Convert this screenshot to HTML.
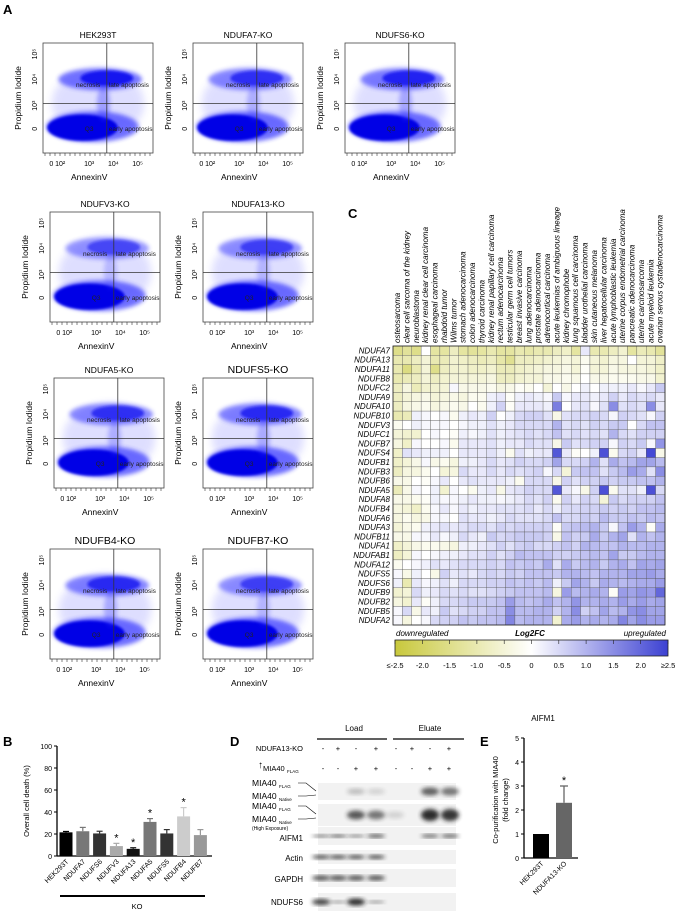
<!DOCTYPE html>
<html><head><meta charset="utf-8">
<style>
body{margin:0;background:#fff;width:676px;height:911px;overflow:hidden;font-family:"Liberation Sans",sans-serif;}
svg text{font-family:"Liberation Sans",sans-serif;}
</style></head>
<body>
<svg id="fig" width="676" height="911" viewBox="0 0 676 911" xmlns="http://www.w3.org/2000/svg">
<defs>
<filter id="blur1" x="-30%" y="-30%" width="160%" height="160%"><feGaussianBlur stdDeviation="1.2"/></filter>
<filter id="blur2" x="-30%" y="-30%" width="160%" height="160%"><feGaussianBlur stdDeviation="2.2"/></filter>
<filter id="blur4" x="-30%" y="-30%" width="160%" height="160%"><feGaussianBlur stdDeviation="4"/></filter>
</defs>
<text x="3" y="14" font-size="13" font-weight="bold">A</text>
<text x="348" y="218" font-size="13" font-weight="bold">C</text>
<text x="3" y="746" font-size="13" font-weight="bold">B</text>
<text x="230" y="746" font-size="13" font-weight="bold">D</text>
<text x="480" y="746" font-size="13" font-weight="bold">E</text>
<g id="flow"></g>
<g id="heat"></g>
<g id="barB"></g>
<g id="blot"></g>
<g id="barE"></g>
</svg>
<script>
const NS="http://www.w3.org/2000/svg";
function mk(parent,tag,attrs,txt){const e=document.createElementNS(NS,tag);for(const k in attrs)e.setAttribute(k,attrs[k]);if(txt!==undefined)e.textContent=txt;parent.appendChild(e);return e;}

/* ---------- Panel A flow plots ---------- */
const flowTitles=["HEK293T","NDUFA7-KO","NDUFS6-KO","NDUFV3-KO","NDUFA13-KO","NDUFA5-KO","NDUFS5-KO","NDUFB4-KO","NDUFB7-KO"];
const flowUpper=[0.9,0.7,0.8,0.55,0.6,0.7,0.75,0.75,0.6];
const flowPos=[[43,43],[193,43],[345,43],[50,212],[203,212],[54,378],[203,378],[50,549],[203,549]];
const flowBig=[0,0,0,0,0,0,1,1,1];
const fg=document.getElementById('flow');
flowTitles.forEach((t,i)=>{
  const [x,y]=flowPos[i],w=110,h=110;
  const g=mk(fg,'g',{});
  
  
  const tt=mk(g,'text',{x:x+w/2,y:y-5,'font-size':flowBig[i]?10.5:8.5,'text-anchor':'middle'},t);
  
  
  const hy=y+h*0.55, vx=x+w*0.58;
  const u=flowUpper[i];
  mk(g,'ellipse',{cx:x+w*0.5,cy:y+h*0.55,rx:w*0.42,ry:h*0.32,fill:'#5050ff',opacity:0.18,filter:'url(#blur4)'});
  mk(g,'ellipse',{cx:x+w*0.45,cy:y+h*0.76,rx:w*0.42,ry:h*0.14,fill:'#2a2aff',opacity:0.65,filter:'url(#blur2)'});
  mk(g,'ellipse',{cx:x+w*0.36,cy:y+h*0.77,rx:w*0.32,ry:h*0.12,fill:'#0000e6',filter:'url(#blur1)'});
  mk(g,'ellipse',{cx:x+w*0.55,cy:y+h*0.55,rx:w*0.06,ry:h*0.16,fill:'#3030ff',opacity:0.4*u,filter:'url(#blur2)'});
  mk(g,'ellipse',{cx:x+w*0.52,cy:y+h*0.33,rx:w*0.38,ry:h*0.1,fill:'#3030ff',opacity:0.5*u+0.2,filter:'url(#blur2)'});
  mk(g,'ellipse',{cx:x+w*0.58,cy:y+h*0.32,rx:w*0.24,ry:h*0.07,fill:'#0c0cee',opacity:u,filter:'url(#blur1)'});
  mk(g,'rect',{x:x,y:y,width:w,height:h,fill:'none',stroke:'#444','stroke-width':0.8});
  mk(g,'line',{x1:x,y1:hy,x2:x+w,y2:hy,stroke:'#333','stroke-width':0.8});
  mk(g,'line',{x1:vx,y1:y,x2:vx,y2:y+h,stroke:'#333','stroke-width':0.8});
  mk(g,'text',{x:x+w*0.3,y:y+h*0.4,'font-size':6.5,fill:'#222'},'necrosis');
  mk(g,'text',{x:vx+2,y:y+h*0.4,'font-size':6.5,fill:'#222'},'late apoptosis');
  mk(g,'text',{x:x+w*0.38,y:y+h*0.8,'font-size':6.5,fill:'#222'},'Q3');
  mk(g,'text',{x:vx+2,y:y+h*0.8,'font-size':6.5,fill:'#222'},'early apoptosis');
  const yl=["10⁵","10⁴","10³","0"],yp=[0.1,0.33,0.57,0.78];
  yl.forEach((l,k)=>mk(g,'text',{x:x-6,y:y+h*yp[k],'font-size':7,'text-anchor':'middle',transform:`rotate(-90 ${x-6} ${y+h*yp[k]})`},l));
  const xl=["0 10²","10³","10⁴","10⁵"],xp=[0.13,0.42,0.64,0.86];
  xl.forEach((l,k)=>mk(g,'text',{x:x+w*xp[k],y:y+h+13,'font-size':7,'text-anchor':'middle'},l));
  for(let k=0;k<22;k++){mk(g,'line',{x1:x+5*k+2,y1:y+h,x2:x+5*k+2,y2:y+h+3,stroke:'#333','stroke-width':0.6});}
  const xa=mk(g,'text',{x:x+w*0.42,y:y+h+27,'font-size':8.5,'text-anchor':'middle'},'AnnexinV');
  
  
  const ya=mk(g,'text',{x:x-22,y:y+h*0.5,'font-size':8.5,'text-anchor':'middle',transform:`rotate(-90 ${x-22} ${y+h*0.5})`},'Propidium Iodide');
  
  
});

/* ---------- Panel C heatmap ---------- */
const heatCols=["osteosarcoma","clear cell sarcoma of the kidney","neuroblastoma","kidney renal clear cell carcinoma","esophageal carcinoma","rhabdoid tumor","Wilms tumor","stomach adenocarcinoma","colon adenocarcinoma","thyroid carcinoma","kidney renal papillary cell carcinoma","rectum adenocarcinoma","testicular germ cell tumors","breast invasive carcinoma","lung adenocarcinoma","prostate adenocarcinoma","adrenocortical carcinoma","acute leukemias of ambiguous lineage","kidney chromophobe","lung squamous cell carcinoma","bladder urothelial carcinoma","skin cutaneous melanoma","liver hepatocellular carcinoma","acute lymphoblastic leukemia","uterine corpus endometrial carcinoma","pancreatic adenocarcinoma","uterine carcinosarcoma","acute myeloid leukemia","ovarian serous cystadenocarcinoma"];
const heatRows=["NDUFA7","NDUFA13","NDUFA11","NDUFB8","NDUFC2","NDUFA9","NDUFA10","NDUFB10","NDUFV3","NDUFC1","NDUFB7","NDUFS4","NDUFB1","NDUFB3","NDUFB6","NDUFA5","NDUFA8","NDUFB4","NDUFA6","NDUFA3","NDUFB11","NDUFA1","NDUFAB1","NDUFA12","NDUFS5","NDUFS6","NDUFB9","NDUFB2","NDUFB5","NDUFA2"];
const heatVals=[
[-1.5,-1.3,-1.5,0,-1.2,-1.2,-0.8,-1.2,-1.3,-1.2,-1,-1.2,-1.2,-1,-1.1,-1,-1,-0.8,-0.7,-1.2,0.3,-1,-1,-0.8,-0.6,-1.2,-0.9,-1,-1.3],
[-1,-1,-0.8,-0.5,-1,-0.9,-0.6,-0.7,-0.8,-0.9,-0.8,-1.1,-1.4,-0.8,-0.8,-0.7,-0.6,-0.5,-0.4,-0.5,-0.2,-0.5,-0.6,-0.4,-0.4,0,-0.5,-0.5,-0.7],
[-1,-1.6,-1,-0.5,-1.5,-0.8,-0.6,-0.6,-0.7,-0.7,-0.6,-0.9,-0.9,-0.7,-0.6,-0.5,-0.4,-0.4,-0.3,-0.5,-0.1,-0.5,-0.5,-0.3,-0.4,-0.4,-0.4,-0.5,-0.7],
[-1,-0.9,-0.8,-0.5,-0.8,-0.6,-0.5,-0.5,-0.5,-0.5,-0.4,-0.8,-0.8,-0.6,-0.5,-0.5,-0.3,-0.3,-0.2,-0.3,0,-0.3,-0.3,-0.2,-0.2,-0.2,-0.3,-0.3,-0.6],
[-0.8,-0.4,-0.9,-0.6,-0.6,-0.5,0.1,-0.3,-0.3,-0.3,-0.2,-0.4,-0.3,-0.1,-0.2,0,-0.5,0,-0.3,0,0.2,0,0.2,0.2,0.2,0.3,0.1,0.3,0.7],
[-0.8,-0.5,-0.4,-0.3,-0.5,-0.4,-0.3,-0.4,-0.2,-0.2,0.2,0.3,-0.1,0.2,0.3,0.2,0.1,0.7,0.1,0.3,0.3,0.2,0.3,0.6,0.3,0.5,0.4,0.5,0.3],
[-0.8,-0.4,-0.3,-0.2,-0.4,-0.3,-0.2,-0.3,0,-0.2,0.2,0.6,-0.1,0.3,0.3,0.3,0.2,1.7,0,0.3,0.4,0.1,0.4,1.5,0.4,0.5,0.4,1.5,0.3],
[-1,-0.9,0.2,0.1,0,0.1,-0.2,0.2,0.3,0.2,0.6,0,0.2,0.5,0.6,0.6,0.4,-0.3,0.4,0.5,0.5,0.6,0.5,0.1,0.6,0.5,0.4,0.1,0.6],
[-0.2,0,0.2,0.1,0.1,0.1,0,0.1,0.2,0.2,0.4,0.2,0.3,0.5,0.5,0.5,0.5,1,0.4,0.5,0.4,0.6,0.5,0.7,0.7,0,0.5,0.8,0.8],
[-0.5,-0.6,-0.6,0,0.1,0,-0.1,0.2,0.1,0.2,0.4,0.2,0.3,0.4,0.5,0.4,0.5,0.8,0.4,0.5,0.4,0.5,0.4,1,0.5,0.4,0.6,0.6,0.6],
[-0.4,-0.7,0.1,0,0,0.1,-0.2,0.3,0.3,0.3,0.4,0.2,0.3,0.3,0.5,0.4,0.4,-0.3,0.7,0.4,0.5,0.6,0.6,0.1,0.6,0.5,0.7,0.1,1.4],
[-0.7,0.4,0.3,0.2,0.2,0.2,0,0.3,0.3,0.3,0.4,0.2,-0.2,0.4,0.2,0.3,0.3,2.2,0.3,-0.1,0,0.2,2.3,-0.2,0.5,0.6,0.3,2.4,-0.3],
[-0.7,-0.5,-0.3,0.1,-0.3,-0.2,-0.4,0.2,0.2,0.3,0.5,0.3,0.4,0.6,0.5,0.5,0.6,1.2,0.5,0.5,0.6,1,0.4,1.1,0.8,0.9,1.2,1.2,0.9],
[-0.8,-0.4,-0.4,-0.2,0,-0.5,-0.4,0.5,0.3,0.3,0.5,0.3,0.5,0.4,0.5,0.6,0.1,0.5,-0.5,0.7,0.8,0.8,0.4,0.7,0.9,1.3,1.1,0.4,1.5],
[-0.3,-0.3,0,-0.1,0.1,0.3,0,0.3,0.4,0.3,0.3,0.3,0.2,-0.2,0.5,0.5,0.5,-0.3,0.6,0.4,0.6,0.6,0.7,0.6,0.7,0.7,0.8,0.8,1],
[-0.9,-0.3,0.1,0,0.2,-0.6,0.1,0,-0.2,0.2,0.3,-0.3,0.3,0.4,0.6,0.5,0.5,2.2,0.3,0.1,-0.3,0.6,2.3,-0.2,0.4,0.4,0.2,2.3,0.5],
[-0.3,-0.3,-0.2,-0.1,0.2,0.1,0.1,0.2,0.3,0.2,0.2,0.1,0.2,0.3,0.5,0.4,0.6,-0.2,0.6,0.3,0.6,0.5,-0.5,0.7,0.5,0.6,0.6,0.6,0.8],
[-0.4,-0.5,-0.7,-0.2,0.1,0.3,0.1,0.3,0.2,0.3,0.3,0.4,0.4,0.4,0.5,0.3,0.5,0.2,0.5,0.5,0.6,0.6,0.7,0.6,0.7,0.6,0.8,0.8,0.9],
[-0.4,-0.2,-0.4,-0.3,0.1,0.1,0,0.4,0.3,0.3,0.2,0.3,0.5,0.4,0.4,0.4,0.5,0.8,0.5,0.5,0.7,0.6,0.9,0.7,0.7,0.8,0.7,0.9,0.8],
[-0.5,-0.3,-0.2,0.2,0.3,0.4,0.3,0.4,0.5,0.5,0.4,0.6,0.5,0.6,0.6,0.6,0.6,-0.1,0.7,0.8,0.9,1,0.7,0.1,0.8,1.3,1,-0.1,1.1],
[-0.3,-0.3,0.1,0.1,0.3,0.1,0.2,0.5,0.3,0.2,0.7,0.5,0.6,0.7,0.7,0.7,0.6,-0.3,0.8,0.6,0.7,1.1,0.7,1,1.2,0.4,1,0.8,1],
[-0.7,-0.5,-0.3,-0.2,-0.2,-0.3,-0.4,0.2,0.2,0.3,0.4,0.6,0.4,0.6,0.7,0.5,0.5,0.6,0.8,0.6,1,0.9,0.8,0.8,1,0.9,0.9,1,1],
[-0.8,-0.5,0.1,0,0.1,0.2,0.2,0.3,0.4,0.4,0.6,0.4,0.6,0.9,0.8,0.8,0.8,0.6,0.6,0.7,0.8,0.9,0.8,1.2,0.7,0.7,0.9,1,1],
[-0.2,0,0.1,0.2,0.4,0.3,0.4,0.5,0.5,0.5,0.6,0.5,0.8,0.7,0.8,0.7,1.1,0.4,1.1,0.7,0.9,1,0.7,1,1.1,0.8,1.2,1.1,1.2],
[0.1,-0.3,0.2,0,-0.3,0.6,0.3,0.4,0.3,0.5,0.6,0.5,0.7,0.6,0.8,0.8,0.8,0.7,1,1,0.9,0.8,1,1,1,1.2,1.2,1.3,1.1],
[0.2,-1,0.3,0.1,0.2,0.4,0.2,0.5,0.5,0.5,0.6,0.6,0.8,0.7,0.8,0.7,0.9,0.2,0.7,1.2,1,0.7,1.1,1,0.9,1,1.1,1.1,1.3],
[-0.6,-0.5,0.5,0.2,0.3,0.5,0.4,0.5,0.4,0.4,0.5,0.6,0.7,0.8,0.8,0.8,0.9,-0.4,1.3,0.9,1,1.1,1,-0.1,1.3,1.2,1.4,1.3,2],
[-0.4,-0.6,0.3,-0.1,0.2,0.5,0.5,0.6,0.7,0.7,0.7,0.8,1.3,0.9,0.8,0.9,1.1,0.8,1,1.4,1,1,1.1,1,1.3,1.1,1.3,1.1,1.2],
[0.1,0.5,-0.3,0.3,0.2,0.7,0.4,0.5,0.6,0.6,0.8,0.8,1.5,0.9,0.9,1,1,0.6,1,1.5,0.6,0.8,1.2,0.9,1,1.4,1.5,1.2,1.2],
[0.1,-0.4,0,0.1,0.5,0.6,0.6,0.8,0.7,0.8,0.8,0.9,1.6,0.9,1,1,1,-0.6,1.1,1.3,1,1.1,1,1.1,1.6,1.2,1.5,1.3,1.3]];
const cbTicks=["≤-2.5","-2.0","-1.5","-1.0","-0.5","0","0.5","1.0","1.5","2.0","≥2.5"];
function heatColor(v){v=Math.max(-2.5,Math.min(2.5,v));const t=Math.abs(v)/2.5;
  if(v<0){return `rgb(${Math.round(255-55*t)},${Math.round(255-55*t)},${Math.round(255-195*t)})`;}
  return `rgb(${Math.round(255-195*t)},${Math.round(255-190*t)},${Math.round(255-45*t)})`;}
const hg=document.getElementById('heat');
const HX=393,HY=346,HW=272,HH=279;
const cw=HW/heatCols.length, rh=HH/heatRows.length;
const hx=j=>HX+j*cw, hy=i=>HY+i*rh;
heatRows.forEach((r,i)=>{
  heatCols.forEach((c,j)=>{
    const cell=mk(hg,'rect',{x:hx(j),y:hy(i),width:cw,height:rh,fill:heatColor(heatVals[i][j]),stroke:'#555','stroke-width':0.35});
    
    
  });
  const l=mk(hg,'text',{x:HX-3,y:hy(i)+rh*0.8,'font-size':8,'font-style':'italic','text-anchor':'end'},r);
  
  
});
mk(hg,'rect',{x:HX,y:HY,width:HW,height:HH,fill:'none',stroke:'#222','stroke-width':0.8});
heatCols.forEach((c,j)=>{
  const xx=hx(j)+cw*0.75, yy=HY-3;
  const l=mk(hg,'text',{x:xx,y:yy,'font-size':8,'font-style':'italic',transform:`rotate(-90 ${xx} ${yy})`},c);
  
  
});
mk(hg,'text',{x:396,y:636,'font-size':8,'font-style':'italic'},'downregulated');
mk(hg,'text',{x:530,y:636,'font-size':8,'font-style':'italic','font-weight':'bold','text-anchor':'middle'},'Log2FC');
mk(hg,'text',{x:666,y:636,'font-size':8,'font-style':'italic','text-anchor':'end'},'upregulated');
const gr=mk(hg,'linearGradient',{id:'cbg',x1:0,x2:1,y1:0,y2:0});
[-2.5,-1.25,0,1.25,2.5].forEach((v,k)=>mk(gr,'stop',{offset:k/4,'stop-color':heatColor(v)}));
const cb=mk(hg,'rect',{x:395,y:640,width:273,height:16,fill:'url(#cbg)',stroke:'#222','stroke-width':0.8});


cbTicks.forEach((t,k)=>{const xx=395+k*273/10;
  mk(hg,'line',{x1:xx,y1:640,x2:xx,y2:644,stroke:'#222','stroke-width':0.6});
  const l=mk(hg,'text',{x:xx,y:668,'font-size':7.5,'text-anchor':'middle'},t);
  
  });

/* ---------- Panel B bar chart ---------- */
const bCats=["HEK293T","NDUFA7","NDUFS6","NDUFV3","NDUFA13","NDUFA5","NDUFS5","NDUFB4","NDUFB7"];
const bVals=[21.5,22.5,20.5,9,6.5,31,20.5,36,19];
const bErr=[0.8,3.5,2,2.5,1,3,3.5,8,5];
const bSig=[0,0,0,1,1,1,0,1,0];
const bTicks=[0,20,40,60,80,100];
const bColors=["#000","#777","#333","#aaa","#111","#777","#333","#ccc","#999"];
const bg=document.getElementById('barB');
const BX0=57,BX1=212,BY0=856,BY1=746;
const by=v=>BY0-(v/100)*(BY0-BY1);
const bx=i=>66+i*16.8;
mk(bg,'line',{x1:BX0,y1:BY1,x2:BX0,y2:BY0,stroke:'#000','stroke-width':1.3});
mk(bg,'line',{x1:BX0,y1:BY0,x2:BX1,y2:BY0,stroke:'#000','stroke-width':1.3});
bTicks.forEach(t=>{mk(bg,'line',{x1:BX0-3,y1:by(t),x2:BX0,y2:by(t),stroke:'#000'});
  mk(bg,'text',{x:BX0-5,y:by(t)+3,'font-size':7,'text-anchor':'end'},t);});
bCats.forEach((c,i)=>{
  const x=bx(i);
  mk(bg,'line',{x1:x,y1:by(bVals[i]),x2:x,y2:by(bVals[i]+bErr[i]),stroke:bColors[i],'stroke-width':1.2});
  mk(bg,'line',{x1:x-3,y1:by(bVals[i]+bErr[i]),x2:x+3,y2:by(bVals[i]+bErr[i]),stroke:bColors[i],'stroke-width':1.2});
  const r=mk(bg,'rect',{x:x-6.5,y:by(bVals[i]),width:13,height:BY0-by(bVals[i]),fill:bColors[i]});
  
  
  if(bSig[i])mk(bg,'text',{x:x,y:by(bVals[i]+bErr[i])-2,'font-size':11,'text-anchor':'middle'},'*');
  const lx=x+3,ly=BY0+6;
  mk(bg,'text',{x:lx,y:ly,'font-size':7,'text-anchor':'end',transform:`rotate(-45 ${lx} ${ly})`},c);
});
const byt=mk(bg,'text',{x:29,y:801,'font-size':7.5,'text-anchor':'middle',transform:'rotate(-90 29 801)'},'Overall cell death (%)');


mk(bg,'line',{x1:60,y1:896,x2:205,y2:896,stroke:'#000','stroke-width':2});
mk(bg,'text',{x:137,y:909,'font-size':7.5,'text-anchor':'middle'},'KO');

/* ---------- Panel D western blot ---------- */
const dg=document.getElementById('blot');
const laneX=[323,338,356,376,396,412,430,449];
const koSigns=["-","+","-","+","-","+","-","+"];
const flagSigns=["-","-","+","+","-","-","+","+"];
mk(dg,'text',{x:354,y:731,'font-size':8,'text-anchor':'middle'},'Load');
mk(dg,'text',{x:430,y:731,'font-size':8,'text-anchor':'middle'},'Eluate');
mk(dg,'line',{x1:317,y1:739,x2:387,y2:739,stroke:'#000','stroke-width':1.2});
mk(dg,'line',{x1:393,y1:739,x2:464,y2:739,stroke:'#000','stroke-width':1.2});
mk(dg,'text',{x:303,y:751,'font-size':7.5,'text-anchor':'end'},'NDUFA13-KO');
mk(dg,'text',{x:263,y:771,'font-size':7.5},'MIA40');
mk(dg,'text',{x:287,y:773,'font-size':4.5},'FLAG');
mk(dg,'text',{x:258,y:768,'font-size':10,'font-weight':'bold'},'↑');
laneX.forEach((x,k)=>{mk(dg,'text',{x:x,y:751,'font-size':7.5,'text-anchor':'middle'},koSigns[k]);
  mk(dg,'text',{x:x,y:771,'font-size':7.5,'text-anchor':'middle'},flagSigns[k]);});
const blots=[
 {n:"mia40",y:783,h:17,b:[[356,0.25,5],[376,0.15,5],[430,0.7,7],[450,0.6,7]]},
 {n:"mia40-high",y:804,h:22,b:[[356,0.75,8],[376,0.6,8],[395,0.15,6],[430,0.95,11],[450,0.9,11]]},
 {n:"aifm1",y:827,h:18,b:[[321,0.6,2],[338,0.75,2],[356,0.55,2],[376,0.8,2.5],[430,0.7,2.5],[450,0.75,2.5]]},
 {n:"actin",y:850,h:14,b:[[321,0.8,3],[338,0.8,3],[356,0.8,3],[376,0.8,3]]},
 {n:"gapdh",y:869,h:18,b:[[321,0.8,4],[338,0.8,4],[356,0.8,4],[376,0.8,4]]},
 {n:"ndufs6",y:893,h:18,b:[[321,0.85,5],[338,0.4,2],[356,0.95,6],[376,0.45,2]]}];
blots.forEach(bl=>{
  const g=mk(dg,'g',{});
  
  
  mk(g,'rect',{x:318,y:bl.y,width:138,height:bl.h,fill:'#f2f2f2'});
  bl.b.forEach(([x,o,t])=>mk(g,'ellipse',{cx:x,cy:bl.y+bl.h*0.5,rx:9,ry:t/2+0.5,fill:'#222',opacity:o,filter:'url(#blur2)'}));
});
function lbl(t,sub,x,y){mk(dg,'text',{x:x,y:y,'font-size':8.5},t);mk(dg,'text',{x:x+27,y:y+2,'font-size':4.5},sub);}
lbl('MIA40','FLAG',252,786);lbl('MIA40','Native',252,799);
lbl('MIA40','FLAG',252,809);lbl('MIA40','Native',252,822);
mk(dg,'text',{x:252,y:830,'font-size':5},'(High Exposure)');
[[786,791],[799,795],[809,814],[822,818]].forEach(([a,b])=>mk(dg,'polyline',{points:`298,${a-3} 306,${a-3} 316,${b}`,fill:'none',stroke:'#000','stroke-width':0.6}));
mk(dg,'text',{x:303,y:841,'font-size':8,'text-anchor':'end'},'AIFM1');
mk(dg,'text',{x:303,y:861,'font-size':8,'text-anchor':'end'},'Actin');
mk(dg,'text',{x:303,y:882,'font-size':8,'text-anchor':'end'},'GAPDH');
mk(dg,'text',{x:303,y:905,'font-size':8,'text-anchor':'end'},'NDUFS6');

/* ---------- Panel E bar chart ---------- */
const eCats=["HEK293T","NDUFA13-KO"];
const eVals=[1,2.3];
const eErr=[0,0.7];
const eTicks=[0,1,2,3,4,5];
const eColors=["#000","#666"];
const eg=document.getElementById('barE');
const EX0=524,EY0=858,EY1=738;
const ey=v=>EY0-(v/5)*(EY0-EY1);
const ex=i=>541+i*23;
mk(eg,'text',{x:543,y:721,'font-size':8,'text-anchor':'middle'},'AIFM1');
mk(eg,'line',{x1:EX0,y1:EY1,x2:EX0,y2:EY0,stroke:'#000','stroke-width':1.3});
mk(eg,'line',{x1:EX0,y1:EY0,x2:578,y2:EY0,stroke:'#000','stroke-width':1.3});
eTicks.forEach(t=>{mk(eg,'line',{x1:EX0-3,y1:ey(t),x2:EX0,y2:ey(t),stroke:'#000'});
  mk(eg,'text',{x:EX0-5,y:ey(t)+3,'font-size':7,'text-anchor':'end'},t);});
eCats.forEach((c,i)=>{const x=ex(i);
  if(eErr[i]){mk(eg,'line',{x1:x,y1:ey(eVals[i]),x2:x,y2:ey(eVals[i]+eErr[i]),stroke:eColors[i],'stroke-width':1.3});
    mk(eg,'line',{x1:x-4,y1:ey(eVals[i]+eErr[i]),x2:x+4,y2:ey(eVals[i]+eErr[i]),stroke:eColors[i],'stroke-width':1.3});
    mk(eg,'text',{x:x,y:ey(eVals[i]+eErr[i])-2,'font-size':11,'text-anchor':'middle'},'*');}
  const r=mk(eg,'rect',{x:x-8,y:ey(eVals[i]),width:16,height:EY0-ey(eVals[i]),fill:eColors[i]});
  
  
  const lx=x+3,ly=EY0+6;
  mk(eg,'text',{x:lx,y:ly,'font-size':7,'text-anchor':'end',transform:`rotate(-45 ${lx} ${ly})`},c);
});
const et=mk(eg,'text',{x:498,y:800,'font-size':7.5,'text-anchor':'middle',transform:'rotate(-90 498 800)'},'Co-purification with MIA40');


mk(eg,'text',{x:508,y:800,'font-size':7.5,'text-anchor':'middle',transform:'rotate(-90 508 800)'},'(fold change)');
</script>
</body></html>
